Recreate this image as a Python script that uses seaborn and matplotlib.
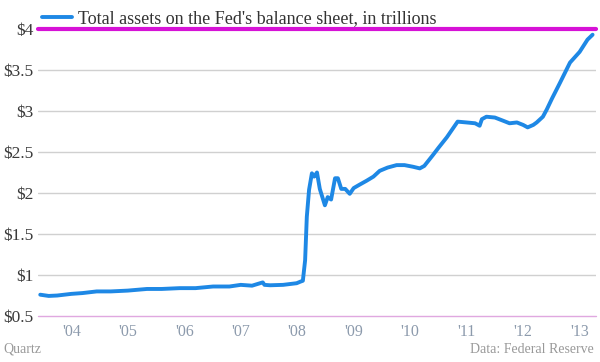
import numpy as np
import matplotlib
matplotlib.use("Agg")
import matplotlib.pyplot as plt
import seaborn as sns
import pandas as pd

# decimal years and Fed total assets (trillions)
years = [2004.05, 2004.2, 2004.35, 2004.6, 2004.8, 2005.05, 2005.3, 2005.6, 2005.94,
         2006.2, 2006.52, 2006.8, 2007.11, 2007.4, 2007.6, 2007.8, 2007.99, 2008.02,
         2008.12, 2008.35, 2008.59, 2008.66, 2008.70, 2008.74, 2008.77, 2008.81, 2008.86,
         2008.90, 2008.95, 2009.0, 2009.09, 2009.14, 2009.2, 2009.27, 2009.32, 2009.38,
         2009.45, 2009.53, 2009.6, 2009.7, 2009.83, 2009.95, 2010.06, 2010.2, 2010.36,
         2010.5, 2010.65, 2010.77, 2010.85, 2011.0, 2011.1, 2011.25, 2011.35, 2011.44,
         2011.6, 2011.75, 2011.83, 2011.87, 2011.95, 2012.1, 2012.25, 2012.36, 2012.49,
         2012.6, 2012.68, 2012.78, 2012.84, 2012.95, 2013.02, 2013.11, 2013.25, 2013.43,
         2013.6, 2013.74, 2013.83]
assets = [0.76, 0.745, 0.75, 0.77, 0.78, 0.80, 0.80, 0.81, 0.83,
          0.83, 0.84, 0.84, 0.86, 0.86, 0.88, 0.87, 0.91, 0.88,
          0.875, 0.88, 0.90, 0.92, 0.93, 1.18, 1.71, 2.04, 2.24,
          2.20, 2.25, 2.05, 1.85, 1.95, 1.92, 2.18, 2.18, 2.05,
          2.05, 1.99, 2.06, 2.10, 2.15, 2.20, 2.27, 2.31, 2.34,
          2.34, 2.32, 2.30, 2.33, 2.46, 2.55, 2.68, 2.78, 2.87,
          2.86, 2.85, 2.82, 2.90, 2.93, 2.92, 2.88, 2.85, 2.86,
          2.83, 2.80, 2.83, 2.86, 2.93, 3.02, 3.15, 3.34, 3.59,
          3.72, 3.87, 3.93]

tick_years = [2004, 2005, 2006, 2007, 2008, 2009, 2010, 2011, 2012, 2013]
tick_labels = ["'04", "'05", "'06", "'07", "'08", "'09", "'10", "'11", "'12", "'13"]
y_ticks = [0.5, 1, 1.5, 2, 2.5, 3, 3.5, 4]
y_labels = ["$0.5", "$1", "$1.5", "$2", "$2.5", "$3", "$3.5", "$4"]

df = pd.DataFrame({"year": years, "assets": assets})

sns.set_style("white")
plt.rcParams['font.family'] = ['Liberation Serif', 'DejaVu Serif']

fig = plt.figure(figsize=(6, 3.62), dpi=100)
ax = fig.add_axes([0.0633, 0.127, 0.93, 0.793])

for v in y_ticks[1:-1]:
    ax.axhline(v, color='#d0d0d0', lw=1, zorder=1)
ax.axhline(4, color='#d612d6', lw=3, zorder=1, clip_on=False)
ax.axhline(0.5, color='#e0a8e0', lw=1, zorder=1, clip_on=False)

sns.lineplot(data=df, x="year", y="assets", ax=ax, color='#1e88e5', lw=2.8,
             label="Total assets on the Fed's balance sheet, in trillions", zorder=3)

ax.set_xlim(2004.01, 2013.89)
ax.set_ylim(0.5, 4)
ax.set_xticks([y + 0.6 for y in tick_years])
ax.set_xticklabels(tick_labels, color='#8c9aac', fontsize=11.5)
ax.set_yticks(y_ticks)
ax.set_yticklabels(y_labels, color='#3a3a3a', fontsize=12.5)
ax.tick_params(length=0, pad=3)
ax.tick_params(axis='x', pad=6)
ax.set_xlabel("")
ax.set_ylabel("")
for s in ax.spines.values():
    s.set_visible(False)

leg = ax.legend(loc='lower left', bbox_to_anchor=(0.007, 1.005), frameon=False,
                fontsize=13, handlelength=1.65, handletextpad=0.35, borderaxespad=0,
                borderpad=0)
for t in leg.get_texts():
    t.set_color('#333333')

fig.text(0.005, 0.025, "Quartz", color='#999999', fontsize=10)
fig.text(0.99, 0.025, "Data: Federal Reserve", color='#999999', fontsize=10, ha='right')

fig.savefig("out.png", dpi=100)
